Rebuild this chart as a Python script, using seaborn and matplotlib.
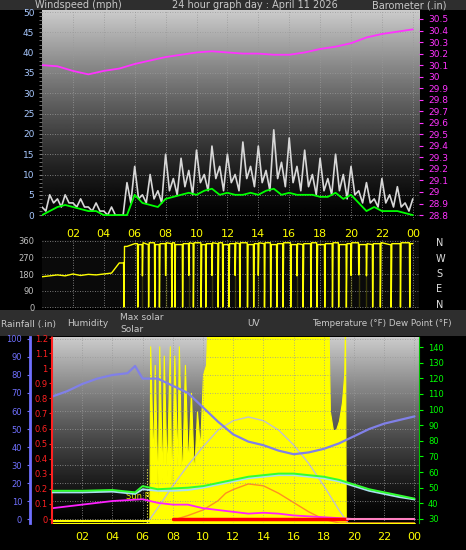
import numpy as np
import pandas as pd
import matplotlib
matplotlib.use("Agg")
import matplotlib.pyplot as plt
import seaborn as sns

# ---------------- data ----------------
hours_half = np.arange(0, 24.01, 0.5)
gust_hi = [2,5,4,5,3,4,2,3,1,2,0,8,12,5,10,6,15,9,14,11,16,10,17,12,15,10,18,12,17,11,21,13,19,12,16,10,14,9,15,10,12,6,8,4,9,5,7,3,4]
gust_lo = [1,3,2,3,2,2,1,1,0,0,0,3,4,3,4,3,6,5,7,5,8,6,9,6,8,6,9,7,8,6,9,7,8,6,7,5,6,5,6,4,5,3,3,2,3,2,2,1,1]
wind_avg = [0,1,2,2.5,2,1.5,1,1,0,0,0,0,5,3,2.5,2,4,4.5,5,5.5,5,6,6.5,5,5.5,5,5,5.5,5,6,6.5,5,5.5,5,5,5,4.5,4.5,5.5,4,5,3,1,2,1,1,1,0.5,0]
hours_1 = np.arange(0, 25)
baro = [30.10,30.09,30.05,30.02,30.05,30.07,30.11,30.14,30.17,30.19,30.21,30.22,30.21,30.20,30.20,30.19,30.19,30.21,30.24,30.26,30.29,30.34,30.37,30.39,30.41]

dir_base = [165,170,175,170,180,172,178,175,180,185,240,330,345,340,350,340,345,350,340,345,350,340,345,350,340,345,350,340,345,350,340,345,350,340,345,350,340,345,350,340,345,350,340,345,350,340,345,350,345]
dir_drops = [5.3,6.2,6.5,6.9,7.3,7.6,8.0,8.4,8.6,9.1,9.5,9.8,10.3,10.6,11.0,11.4,11.7,12.1,12.5,12.8,13.3,13.7,14.0,14.4,14.8,15.2,15.6,16.1,16.5,16.9,17.4,17.8,18.3,18.8,19.2,19.7,20.0,20.5,21.0,21.4,21.9,22.6,23.2,23.8]

hum_h = [0,1,2,3,4,5,5.5,6,7,8,9,10,11,12,13,14,15,16,17,18,19,20,21,22,23,24]
humidity = [68,71,75,78,80,81,85,78,78,74,70,62,54,47,43,41,38,36,37,39,42,46,50,53,55,57]
temp_h = [0,2,4,5.5,6,7,8,9,10,11,12,13,14,15,16,17,18,19,20,21,22,23,24]
temperature = [48,48,48.5,47,51,49,49.5,50,51,53,55,57,58,59,59,58,57,55,52,49,47,45,43]
dewpoint = [47,47,47.5,46,49,48,48,48.5,50,52,54,56,57,58,58,57,56,54,51,48,46,44,42.5]
solar_h = [0,6.45,6.5,6.7,6.8,7.0,7.1,7.3,7.4,7.6,7.8,7.9,8.1,8.3,8.4,8.6,8.8,9.0,9.2,9.4,9.6,9.8,10.0,10.2,10.3,18.3,18.4,18.6,18.8,19.0,19.2,19.35,19.4,19.45,24]
solar = [0,0,0.95,0.3,0.85,0.15,0.95,0.2,0.9,0.25,0.95,0.15,0.9,0.3,0.95,0.2,0.85,0.3,0.7,0.25,0.6,0.4,0.8,0.85,1.1,1.1,0.6,0.5,0.5,0.55,0.65,0.8,1.1,0,0]
maxsol_h = [6.3,7,8,9,10,11,12,13,14,15,16,17,18,19,19.6]
maxsolar = [0,0.08,0.2,0.31,0.41,0.5,0.55,0.57,0.55,0.5,0.42,0.32,0.2,0.07,0]
uv_h = [8.2,9,10,11,11.5,12,13,14,15,16,17,18,19,24]
uv = [0.02,0.04,0.07,0.12,0.16,0.18,0.21,0.2,0.16,0.11,0.06,0.02,0,0]
mag_h = [0,2,4,6,7,8,9,10,11,12,13,14,15,16,17,18,19,20,24]
magenta = [6,8,10,11,9,8,8,6,5,4,3,3.5,3,2,1.5,1,0.5,0,0]
hour_labels = ["02","04","06","08","10","12","14","16","18","20","22","00"]

# ---------------- figure ----------------
sns.set_style("dark")
plt.rcParams['font.family'] = ['DejaVu Sans']
W, H = 466, 550
fig = plt.figure(figsize=(W/100, H/100), dpi=100, facecolor="black")
def rect(x0, y0, x1, y1):
    return [x0/W, 1-y1/H, (x1-x0)/W, (y1-y0)/H]

for (y0, y1) in [(0, 10), (310, 336)]:
    b = fig.add_axes(rect(0, y0, 466, y1)); b.set_facecolor("#2e2e2e")
    b.set_xticks([]); b.set_yticks([])
    for s in b.spines.values(): s.set_visible(False)
TXT = "#c8c8c8"
fig.text(35/W, 1-5/H, "Windspeed (mph)", color=TXT, fontsize=7, va="center")
fig.text(172/W, 1-5/H, "24 hour graph day : April 11 2026", color=TXT, fontsize=7, va="center")
fig.text(372/W, 1-5/H, "Barometer (.in)", color=TXT, fontsize=7, va="center")
fig.text(1/W, 1-324/H, "Rainfall (.in)", color=TXT, fontsize=6.5, va="center")
fig.text(67/W, 1-324/H, "Humidity", color=TXT, fontsize=6.5, va="center")
fig.text(120/W, 1-317/H, "Max solar", color=TXT, fontsize=6.5, va="center")
fig.text(120/W, 1-329/H, "Solar", color=TXT, fontsize=6.5, va="center")
fig.text(247/W, 1-324/H, "UV", color=TXT, fontsize=6.5, va="center")
fig.text(312/W, 1-324/H, "Temperature (°F) Dew Point (°F)", color=TXT, fontsize=6.3, va="center")

grad = np.linspace(0, 1, 256).reshape(-1, 1)

def style(ax, xmax):
    ax.set_xlim(0, xmax)
    ax.grid(True, color="#9a9a9a", linestyle=(0, (1, 2)), linewidth=0.6)
    for s in ax.spines.values():
        s.set_visible(False)
    ax.set_xticks(range(2, 25, 2))
    ax.set_xticks(np.arange(0, 24.5, 0.5), minor=True)
    ax.tick_params(axis="x", which="both", colors="#808080", length=3, labelcolor="yellow", labelsize=8)
    ax.set_xlabel(""); ax.set_ylabel("")

# ---------- top panel ----------
ax1 = fig.add_axes(rect(42, 10, 419, 220))
ax1.imshow(grad**1.3, cmap="gray", vmin=0, vmax=1.25, aspect="auto", extent=[0, 1, 0, 1],
           transform=ax1.transAxes, zorder=0, origin="lower")
t_g = np.ravel(np.column_stack([hours_half, hours_half + 0.25]))[:-1]
v_g = np.ravel(np.column_stack([gust_hi, gust_lo]))[:-1]
sns.lineplot(x=t_g, y=v_g, ax=ax1, color="#d8d8d8", linewidth=1.2)
sns.lineplot(x=hours_half, y=wind_avg, ax=ax1, color="#00ff00", linewidth=1.3)
ax1.set_ylim(-1.2, 50.5)
ax1.set_yticks(range(0, 51, 5))
ax1.set_yticks(range(0, 51, 1), minor=True)
style(ax1, 24.4)
ax1.set_xticklabels(hour_labels)
ax1.tick_params(axis="y", which="both", colors="#808080", labelcolor="#a8c8ff", labelsize=6.5, length=2)
ax1b = ax1.twinx()
sns.lineplot(x=hours_1, y=baro, ax=ax1b, color="#ff33ff", linewidth=1.3)
ax1b.set_ylim(28.757, 30.578)
bt = np.round(np.arange(28.8, 30.55, 0.1), 1)
ax1b.set_yticks(bt)
ax1b.set_yticklabels(["%g" % v for v in bt])
ax1b.tick_params(axis="y", colors="#ff33ff", labelsize=6.5, length=3)
ax1b.grid(False); ax1b.set_ylabel("")
for s in ax1b.spines.values(): s.set_visible(False)

# ---------- middle panel ----------
ax2 = fig.add_axes(rect(42, 240, 419, 308))
ax2.set_facecolor("#0a0a0a")
dt = list(hours_half); dv = list(dir_base)
for d in dir_drops:
    idx = int(d * 2)
    dt += [d - 0.02, d, d + 0.04]; dv += [dir_base[idx], 0, dir_base[min(idx + 1, 48)]]
order = np.argsort(dt, kind="stable")
dt = np.array(dt)[order]; dv = np.array(dv)[order]
sns.lineplot(x=dt, y=dv, ax=ax2, color="#ffff00", linewidth=1.0, sort=False)
ax2.set_ylim(-5, 365)
ax2.set_yticks([0, 90, 180, 270, 360])
style(ax2, 24.4)
ax2.set_xticklabels([])
ax2.tick_params(axis="x", length=0)
ax2.tick_params(axis="y", colors="#808080", labelcolor="#c0c0c0", labelsize=6, length=2)
for i, lab in enumerate(["N", "W", "S", "E", "N"]):
    fig.text(436/W, 1-(243 + i*15.5)/H, lab, color="#e0e0e0", fontsize=7, va="center")

# ---------- bottom panel ----------
ax3 = fig.add_axes(rect(52, 337, 419, 523))
axs = ax3.twinx()  # solar fraction (drawn lowest)
axs.imshow(grad**1.3, cmap="gray", vmin=0, vmax=1.25, aspect="auto", extent=[0, 1, 0, 1],
           transform=axs.transAxes, zorder=0, origin="lower")
axs.set_xlim(0, 24.3)
axs.set_ylim(0, 1.0)
axs.fill_between(solar_h, solar, 0, color="#ffff00", zorder=2, linewidth=0.8, edgecolor="#ffff00")
sns.lineplot(x=maxsol_h, y=maxsolar, ax=axs, color="#c0c0d0", linewidth=1.0, zorder=3)
sns.lineplot(x=uv_h, y=uv, ax=axs, color="#ff9020", linewidth=1.0, zorder=3)
axs.axvline(6.3, ymax=0.3, color="#ffff60", linestyle=":", linewidth=0.8, zorder=3)
axs.text(4.9, 0.13, "Sun R", color="#e0e000", fontsize=6, zorder=3)
axs.set_yticks([]); axs.grid(False); axs.set_ylabel("")
for s in axs.spines.values(): s.set_visible(False)

ax3.set_zorder(axs.get_zorder() + 1); ax3.patch.set_visible(False)
style(ax3, 24.3)
ax3.set_xticklabels(hour_labels)
ax3.set_ylim(-2.2, 101.1)
ax3.set_yticks(range(0, 101, 10))
sns.lineplot(x=hum_h, y=humidity, ax=ax3, color="#8080e8", linewidth=1.6, zorder=3)
sns.lineplot(x=mag_h, y=magenta, ax=ax3, color="#ff20ff", linewidth=1.3, zorder=3)
ax3.spines["left"].set_visible(True)
ax3.spines["left"].set_position(("outward", 16))
ax3.spines["left"].set_color("#7070ff"); ax3.spines["left"].set_linewidth(2)
ax3.tick_params(axis="y", colors="#7070ff", labelsize=6, length=2)
ax3.set_xlabel(""); ax3.set_ylabel("")

axr = ax3.twinx()  # rain
axr.set_ylim(-0.0265, 1.207)
rt = np.round(np.arange(0, 1.21, 0.1), 1)
axr.set_yticks(rt)
axr.set_yticklabels(["%g" % v for v in rt])
axr.yaxis.set_ticks_position("left"); axr.yaxis.set_label_position("left")
axr.spines["left"].set_visible(True); axr.spines["left"].set_color("#ff2020")
axr.spines["left"].set_linestyle((0, (1, 1))); axr.spines["left"].set_linewidth(1.5)
for k in ["right", "top", "bottom"]: axr.spines[k].set_visible(False)
axr.tick_params(axis="y", colors="#ff2020", labelsize=6, length=2, pad=1)
axr.plot([8.0, 19.5], [0, 0], color="#ff0000", linewidth=2.5)
axr.plot([0, 6.5], [-0.015, -0.015], color="#ffff00", linewidth=1.5)
axr.plot([19.5, 24], [0, 0], color="#ff80c0", linewidth=1.5)
axr.grid(False); axr.set_ylabel("")

axt = ax3.twinx()  # temperature
axt.set_ylim(27.4, 146.4)
axt.set_yticks(range(30, 141, 10))
sns.lineplot(x=temp_h, y=dewpoint, ax=axt, color="#a8e0f0", linewidth=1.4)
sns.lineplot(x=temp_h, y=temperature, ax=axt, color="#30ff30", linewidth=1.4)
axt.tick_params(axis="y", colors="#00ff00", labelsize=6, length=3)
axt.grid(False); axt.set_ylabel("")
for s in axt.spines.values(): s.set_visible(False)
axt.spines["right"].set_visible(True); axt.spines["right"].set_color("#00c000")
axr.set_zorder(ax3.get_zorder() + 1); axt.set_zorder(ax3.get_zorder() + 2)

fig.savefig("out.png", dpi=100, facecolor="black")
